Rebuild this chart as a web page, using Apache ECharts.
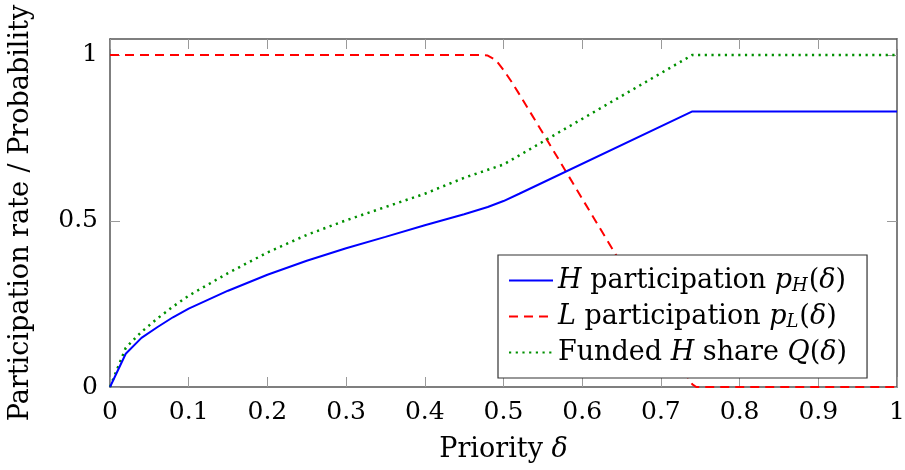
<!DOCTYPE html>
<html>
<head>
<meta charset="utf-8">
<script src="https://cdn.jsdelivr.net/npm/echarts@6/dist/echarts.min.js"></script>
<style>
html,body{margin:0;padding:0;background:#fff;}
#chart{width:905px;height:470px;}
</style>
</head>
<body>
<div id="chart"></div>
<script>
// Data
const hDelta  = [0, 0.02, 0.04, 0.06, 0.08, 0.10, 0.15, 0.20, 0.25, 0.30, 0.35, 0.40, 0.45, 0.48, 0.50, 0.52, 0.74, 1.0];
const hValues = [0, 0.100, 0.148, 0.180, 0.210, 0.236, 0.290, 0.338, 0.380, 0.418, 0.452, 0.487, 0.520, 0.542, 0.560, 0.582, 0.830, 0.830];

const lDelta  = [0, 0.47, 0.48, 0.49, 0.50, 0.51, 0.52, 0.55, 0.60, 0.65, 0.70, 0.73, 0.74, 0.745, 1.0];
const lValues = [1, 1.0, 0.998, 0.985, 0.955, 0.920, 0.882, 0.765, 0.567, 0.370, 0.168, 0.045, 0.008, 0, 0];

const qDelta  = [0, 0.02, 0.04, 0.06, 0.08, 0.10, 0.15, 0.20, 0.25, 0.30, 0.35, 0.40, 0.45, 0.50, 0.74, 1.0];
const qValues = [0, 0.118, 0.166, 0.206, 0.242, 0.275, 0.343, 0.405, 0.458, 0.502, 0.542, 0.582, 0.630, 0.670, 1.0, 1.0];

const xTicks = [0, 0.1, 0.2, 0.3, 0.4, 0.5, 0.6, 0.7, 0.8, 0.9, 1];
const yTicks = [0, 0.5, 1];

const seriesNames = ['H participation', 'L participation', 'Funded H share'];

const zip = (xs, ys) => xs.map((x, i) => [x, ys[i]]);

const FONT = 'DejaVu Serif';
const FS = 25;     // tick labels
const FSN = 27;    // axis names
const FSL = 27;    // legend
const frame = '#555555';
const tickCol = '#9a9a9a';

const chart = echarts.init(document.getElementById('chart'), null, {renderer: 'canvas'});

const fmtTick = v => String(v);

const option = {
  animation: false,
  backgroundColor: '#ffffff',
  textStyle: {fontFamily: FONT},
  grid: {left: 110, right: 8, top: 39, bottom: 83, containLabel: false, outerBoundsMode: 'none'},
  xAxis: [
    {
      type: 'value', min: 0, max: 1, position: 'bottom',
      name: '{r|Priority }{i|δ}', nameLocation: 'middle', nameGap: 49,
      nameTextStyle: {rich: {
        r: {fontFamily: FONT, fontSize: FSN, color: '#000'},
        i: {fontFamily: FONT, fontSize: FSN, fontStyle: 'italic', color: '#000'}
      }},
      axisLine: {show: true, onZero: false, lineStyle: {color: frame, width: 1.5}},
      axisTick: {show: true, inside: true, length: 10, customValues: xTicks, lineStyle: {color: tickCol, width: 1}},
      axisLabel: {show: true, customValues: xTicks, formatter: fmtTick, margin: 13, fontFamily: FONT, fontSize: FS, color: '#000'},
      splitLine: {show: false}
    },
    {
      type: 'value', min: 0, max: 1, position: 'top',
      axisLine: {show: true, onZero: false, lineStyle: {color: frame, width: 1.5}},
      axisTick: {show: true, inside: true, length: 10, customValues: xTicks, lineStyle: {color: tickCol, width: 1}},
      axisLabel: {show: false},
      splitLine: {show: false}
    }
  ],
  yAxis: [
    {
      type: 'value', min: 0, max: 1.048, position: 'left',
      name: 'Participation rate / Probability', nameLocation: 'middle', nameGap: 76, nameRotate: 90,
      nameTextStyle: {fontFamily: FONT, fontSize: FSN, color: '#000'},
      axisLine: {show: true, onZero: false, lineStyle: {color: frame, width: 1.5}},
      axisTick: {show: true, inside: true, length: 10, customValues: yTicks, lineStyle: {color: tickCol, width: 1}},
      axisLabel: {show: true, customValues: yTicks, formatter: fmtTick, margin: 12, fontFamily: FONT, fontSize: FS, color: '#000'},
      splitLine: {show: false}
    },
    {
      type: 'value', min: 0, max: 1.048, position: 'right',
      axisLine: {show: true, onZero: false, lineStyle: {color: frame, width: 1.5}},
      axisTick: {show: true, inside: true, length: 10, customValues: yTicks, lineStyle: {color: tickCol, width: 1}},
      axisLabel: {show: false},
      splitLine: {show: false}
    }
  ],
  legend: {
    orient: 'vertical',
    left: 498, top: 255,
    padding: [12, 20, 12, 10],
    itemGap: 8,
    itemWidth: 44, itemHeight: 14,
    backgroundColor: '#ffffff',
    borderColor: '#333333', borderWidth: 1.2,
    itemStyle: {opacity: 0},
    data: seriesNames,
    formatter: function (name) {
      if (name === seriesNames[0]) return '{i|H}{r| participation }{i|p}{s|H}{r|(}{i|δ}{r|)}';
      if (name === seriesNames[1]) return '{i|L}{r| participation }{i|p}{s|L}{r|(}{i|δ}{r|)}';
      return '{r|Funded }{i|H}{r| share }{i|Q}{r|(}{i|δ}{r|)}';
    },
    textStyle: {
      fontFamily: FONT, fontSize: FSL, color: '#000',
      rich: {
        r: {fontFamily: FONT, fontSize: FSL, color: '#000', lineHeight: 29},
        i: {fontFamily: FONT, fontSize: FSL, fontStyle: 'italic', color: '#000', lineHeight: 29},
        s: {fontFamily: FONT, fontSize: 18, fontStyle: 'italic', color: '#000', lineHeight: 29, verticalAlign: 'bottom', padding: [0, 1, 0, 0]}
      }
    }
  },
  series: [
    {
      name: seriesNames[0], type: 'line', xAxisIndex: 0, yAxisIndex: 0,
      data: zip(hDelta, hValues),
      showSymbol: false, symbol: 'none', smooth: false,
      lineStyle: {color: '#0000ff', width: 2},
      itemStyle: {color: '#0000ff'},
      z: 3
    },
    {
      name: seriesNames[1], type: 'line', xAxisIndex: 0, yAxisIndex: 0,
      data: zip(lDelta, lValues),
      showSymbol: false, symbol: 'none', smooth: false,
      lineStyle: {color: '#ff0000', width: 2, type: [9, 6]},
      itemStyle: {color: '#ff0000'},
      z: 2
    },
    {
      name: seriesNames[2], type: 'line', xAxisIndex: 0, yAxisIndex: 0,
      data: zip(qDelta, qValues),
      showSymbol: false, symbol: 'none', smooth: false,
      lineStyle: {color: '#009000', width: 2.5, type: [2.2, 4.5]},
      itemStyle: {color: '#009000'},
      z: 2
    }
  ]
};
chart.setOption(option);
</script>
</body>
</html>
